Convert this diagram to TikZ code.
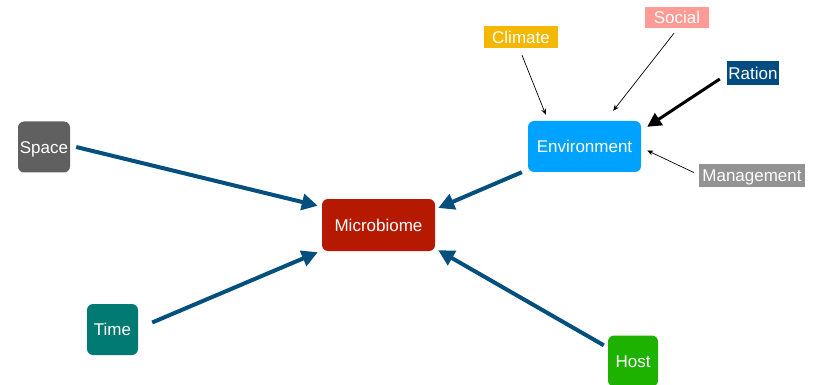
\documentclass[tikz,border=0pt]{standalone}
\usepackage{fontspec}
\setmainfont{Liberation Sans}
\usetikzlibrary{arrows.meta,calc}
\definecolor{cspace}{HTML}{606060}
\definecolor{cmicro}{HTML}{B51A00}
\definecolor{ctime}{HTML}{007A73}
\definecolor{chost}{HTML}{1DB100}
\definecolor{cenv}{HTML}{00A2FF}
\definecolor{cclim}{HTML}{F5B800}
\definecolor{csoc}{HTML}{FF9B94}
\definecolor{crat}{HTML}{004B7F}
\definecolor{cman}{HTML}{939393}
\definecolor{carrow}{HTML}{03507F}
\tikzset{
  box/.style={rounded corners=6pt, text=white, inner sep=0pt, text height=12.2pt, text depth=0pt, font=\fontsize{17}{20}\selectfont},
  tag/.style={text=white, inner sep=0pt, text height=12.2pt, text depth=0pt, font=\fontsize{17}{20}\selectfont},
  bigarrow/.style={draw=carrow, line width=4pt, -{Triangle[length=16pt,width=16pt]}},
  thinarrow/.style={draw=black, line width=0.7pt, -{Stealth[length=6pt,width=5pt]}},
  thickarrow/.style={draw=black, line width=3pt, -{Triangle[length=14pt,width=14pt]}}
}
\begin{document}
\begin{tikzpicture}[x=1pt,y=-1pt]
\useasboundingbox (0,0) rectangle (814,385);
\node[box, fill=cspace, minimum width=52pt, minimum height=51pt] (space) at (44,147) {Space};
\node[box, fill=cmicro, minimum width=113pt, minimum height=52pt] (micro) at (378.5,225) {Microbiome};
\node[box, fill=ctime, minimum width=51pt, minimum height=51pt] (time) at (112.5,329.5) {Time};
\node[box, fill=chost, minimum width=50pt, minimum height=51pt] (host) at (633,361) {Host};
\node[box, fill=cenv, minimum width=113pt, minimum height=51pt] (env) at (584.5,146.5) {Environment};
\node[tag, fill=cclim, minimum width=74pt, minimum height=22pt] (clim) at (521,37) {Climate};
\node[tag, fill=csoc, minimum width=64pt, minimum height=21pt] (soc) at (677,17.5) {Social};
\node[tag, fill=crat, minimum width=52pt, minimum height=24pt] (rat) at (753,73) {Ration};
\node[tag, fill=cman, minimum width=106pt, minimum height=23pt] (man) at (752,175.5) {Management};

\draw[bigarrow] ([shift={(6,0)}]space.east) -- ([shift={(-4,7)}]micro.north west);
\draw[bigarrow] ([shift={(14,-7)}]time.east) -- ([shift={(-4,1)}]micro.south west);
\draw[bigarrow] ([shift={(-4,10)}]host.north west) -- ([shift={(3,-1)}]micro.south east);
\draw[bigarrow] ([shift={(-6,0)}]env.south west) -- ([shift={(3,-17)}]micro.east);
\draw[thinarrow] ([shift={(1,7)}]clim.south) -- ([shift={(18,-6)}]env.north west);
\draw[thinarrow] ([shift={(-3,5)}]soc.south) -- ([shift={(-28,-10)}]env.north east);
\draw[thickarrow] ([shift={(-7,6)}]rat.west) -- ([shift={(6,6)}]env.north east);
\draw[thinarrow] ([shift={(-5,-3)}]man.west) -- ([shift={(6,4)}]env.east);
\end{tikzpicture}
\end{document}
